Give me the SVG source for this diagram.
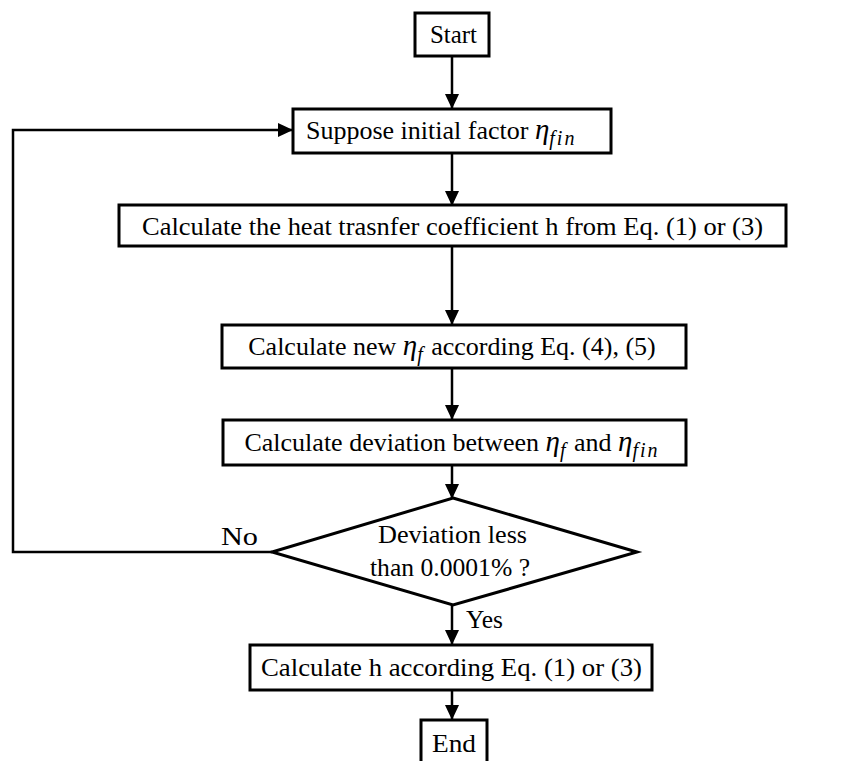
<svg xmlns="http://www.w3.org/2000/svg" width="844" height="761" viewBox="0 0 844 761">
<defs>
<marker id="ah" markerWidth="16" markerHeight="16" refX="14" refY="7" orient="auto" markerUnits="userSpaceOnUse">
<path d="M0,0 L15,7 L0,14 Z" fill="#000"/>
</marker>
<style>
.box{fill:#fff;stroke:#000;stroke-width:3}
.t{font-family:"Liberation Serif","Times New Roman",serif;font-size:26px;fill:#000}
.m{font-style:italic;font-size:29px}
.s{font-style:italic;font-size:20px;letter-spacing:2px}
.c{fill:none;stroke:#000;stroke-width:2.5}
</style>
</defs>
<rect width="844" height="761" fill="#fff"/>
<g id="connectors">
<line class="c" x1="452" y1="56" x2="452" y2="108" marker-end="url(#ah)"/>
<line class="c" x1="452" y1="153" x2="452" y2="205" marker-end="url(#ah)"/>
<line class="c" x1="452" y1="246" x2="452" y2="324" marker-end="url(#ah)"/>
<line class="c" x1="452" y1="368" x2="452" y2="419" marker-end="url(#ah)"/>
<line class="c" x1="452" y1="465" x2="452" y2="498" marker-end="url(#ah)"/>
<line class="c" x1="452" y1="605" x2="452" y2="644" marker-end="url(#ah)"/>
<line class="c" x1="452" y1="690" x2="452" y2="719" marker-end="url(#ah)"/>
<polyline class="c" points="272,552 13,552 13,130 292,130" marker-end="url(#ah)"/>
<text class="t" x="221" y="545" textLength="37" lengthAdjust="spacingAndGlyphs">No</text>
<text class="t" x="466" y="628" textLength="37" lengthAdjust="spacingAndGlyphs">Yes</text>
</g>
<g id="start">
<rect class="box" x="415" y="13" width="74" height="43"/>
<text class="t" x="430" y="43" textLength="47" lengthAdjust="spacingAndGlyphs">Start</text>
</g>
<g id="suppose">
<rect class="box" x="293" y="109" width="318" height="44"/>
<text class="t" x="306" y="139">Suppose initial factor <tspan class="m">η</tspan><tspan class="s" dy="6">fin</tspan></text>
</g>
<g id="calc-h">
<rect class="box" x="119" y="205" width="667" height="41"/>
<text class="t" x="142" y="235" textLength="621" lengthAdjust="spacingAndGlyphs">Calculate the heat trasnfer coefficient h from Eq. (1) or (3)</text>
</g>
<g id="calc-eta">
<rect class="box" x="222" y="325" width="464" height="43"/>
<text class="t" x="452" y="355" text-anchor="middle">Calculate new <tspan class="m">η</tspan><tspan class="s" dy="6">f</tspan><tspan dy="-6"> according Eq. (4), (5)</tspan></text>
</g>
<g id="calc-dev">
<rect class="box" x="223" y="420" width="463" height="45"/>
<text class="t" x="452" y="451" text-anchor="middle">Calculate deviation between <tspan class="m">η</tspan><tspan class="s" dy="6">f</tspan><tspan dy="-6"> and </tspan><tspan class="m">η</tspan><tspan class="s" dy="6">fin</tspan></text>
</g>
<g id="decision">
<polygon class="box" points="453,498 637,552 453,605 272,552"/>
<text class="t" x="378" y="543" textLength="149" lengthAdjust="spacingAndGlyphs">Deviation less</text>
<text class="t" x="370" y="576" textLength="160" lengthAdjust="spacingAndGlyphs">than 0.0001% ?</text>
</g>
<g id="calc-final">
<rect class="box" x="250" y="645" width="402" height="45"/>
<text class="t" x="261" y="676" textLength="381" lengthAdjust="spacingAndGlyphs">Calculate h according Eq. (1) or (3)</text>
</g>
<g id="end">
<rect class="box" x="421" y="720" width="66" height="45"/>
<text class="t" x="432" y="752" textLength="44" lengthAdjust="spacingAndGlyphs">End</text>
</g>
</svg>
